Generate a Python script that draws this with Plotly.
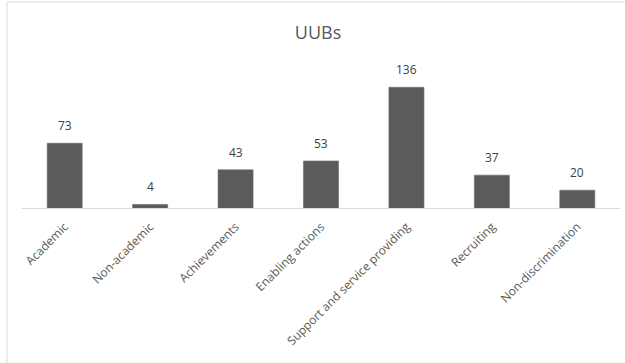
import plotly.graph_objects as go

categories = ["Academic", "Non-academic", "Achievements", "Enabling actions",
              "Support and service providing", "Recruiting", "Non-discrimination"]
counts = [73, 4, 43, 53, 136, 37, 20]

W, H = 625, 363
L, R, T, B = 22, 5, 66, 155
plot_w = W - L - R
plot_h = H - T - B
FONT = "Open Sans, Noto Sans, sans-serif"

fig = go.Figure(go.Bar(
    x=categories,
    y=counts,
    marker=dict(color="#5b5b5b", line=dict(color="#6a6a6a", width=0.6)),
    cliponaxis=False,
))

# value labels above each bar
for c, v in zip(categories, counts):
    fig.add_annotation(x=c, y=v, text=str(v), showarrow=False,
                       yanchor="bottom", yshift=7,
                       font=dict(family=FONT, size=12, color="#404040"))

# light frame around the chart area
fig.add_shape(
    type="rect", xref="paper", yref="paper",
    x0=(7 - L) / plot_w, x1=(W + 10 - L) / plot_w,
    y0=-(H + 10 - (T + plot_h)) / plot_h, y1=(T + plot_h - 2) / plot_h,
    line=dict(color="#d9d9d9", width=1), fillcolor="rgba(0,0,0,0)", layer="below",
)

fig.update_layout(
    width=W, height=H,
    margin=dict(l=L, r=R, t=T, b=B, autoexpand=False),
    paper_bgcolor="white", plot_bgcolor="white",
    title=dict(text="UUBs", x=318 / W, xanchor="center", y=1 - 33 / H, yanchor="middle",
               font=dict(family=FONT, size=18, color="#595959")),
    bargap=0.59,
    showlegend=False,
    xaxis=dict(showline=True, linecolor="#d9d9d9", linewidth=1,
               ticks="outside", ticklen=6, tickcolor="rgba(0,0,0,0)",
               tickangle=-45,
               tickfont=dict(family=FONT, size=12, color="#595959")),
    yaxis=dict(range=[0, 160], visible=False, showgrid=False, zeroline=False),
)

fig.write_html("out.html")
